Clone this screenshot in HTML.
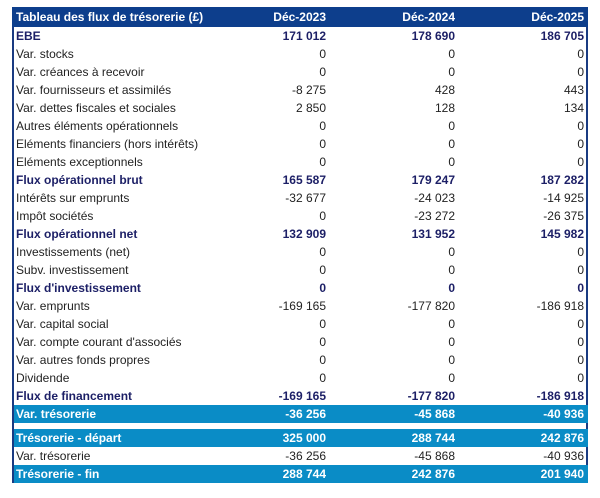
<!DOCTYPE html>
<html><head><meta charset="utf-8"><style>
body{margin:0;background:#fff;width:600px;height:498px;position:relative;font-family:"Liberation Sans",Arial,sans-serif;font-size:12px;color:#222}
.box{position:absolute;left:12px;top:7px;width:572px;height:474px;border:2px solid #1a3b82;border-top:none}
.r{position:absolute;left:14px;width:574px;height:18px;line-height:18px}
.r span{position:absolute;top:0}
.l{left:2px}
.a{right:262px}.b{right:133px}.c{right:4px}
.h{background:#0d3e8c;color:#fff;font-weight:bold;height:20px;line-height:20px}
.bd{font-weight:bold;color:#1c1f66}
.bl{background:#0a8cc6;color:#fff;font-weight:bold}
</style></head><body>
<div class="box"></div>
<div class="r h" style="top:7px;left:12px;width:576px"><span class="l" style="left:4px">Tableau des flux de trésorerie (£)</span><span class="a" style="right:262px">Déc-2023</span><span class="b" style="right:133px">Déc-2024</span><span class="c" style="right:4px">Déc-2025</span></div>
<div class="r bd" style="top:27px"><span class="l">EBE</span><span class="a">171 012</span><span class="b">178 690</span><span class="c">186 705</span></div>
<div class="r" style="top:45px"><span class="l">Var. stocks</span><span class="a">0</span><span class="b">0</span><span class="c">0</span></div>
<div class="r" style="top:63px"><span class="l">Var. créances à recevoir</span><span class="a">0</span><span class="b">0</span><span class="c">0</span></div>
<div class="r" style="top:81px"><span class="l">Var. fournisseurs et assimilés</span><span class="a">-8 275</span><span class="b">428</span><span class="c">443</span></div>
<div class="r" style="top:99px"><span class="l">Var. dettes fiscales et sociales</span><span class="a">2 850</span><span class="b">128</span><span class="c">134</span></div>
<div class="r" style="top:117px"><span class="l">Autres éléments opérationnels</span><span class="a">0</span><span class="b">0</span><span class="c">0</span></div>
<div class="r" style="top:135px"><span class="l">Eléments financiers (hors intérêts)</span><span class="a">0</span><span class="b">0</span><span class="c">0</span></div>
<div class="r" style="top:153px"><span class="l">Eléments exceptionnels</span><span class="a">0</span><span class="b">0</span><span class="c">0</span></div>
<div class="r bd" style="top:171px"><span class="l">Flux opérationnel brut</span><span class="a">165 587</span><span class="b">179 247</span><span class="c">187 282</span></div>
<div class="r" style="top:189px"><span class="l">Intérêts sur emprunts</span><span class="a">-32 677</span><span class="b">-24 023</span><span class="c">-14 925</span></div>
<div class="r" style="top:207px"><span class="l">Impôt sociétés</span><span class="a">0</span><span class="b">-23 272</span><span class="c">-26 375</span></div>
<div class="r bd" style="top:225px"><span class="l">Flux opérationnel net</span><span class="a">132 909</span><span class="b">131 952</span><span class="c">145 982</span></div>
<div class="r" style="top:243px"><span class="l">Investissements (net)</span><span class="a">0</span><span class="b">0</span><span class="c">0</span></div>
<div class="r" style="top:261px"><span class="l">Subv. investissement</span><span class="a">0</span><span class="b">0</span><span class="c">0</span></div>
<div class="r bd" style="top:279px"><span class="l">Flux d'investissement</span><span class="a">0</span><span class="b">0</span><span class="c">0</span></div>
<div class="r" style="top:297px"><span class="l">Var. emprunts</span><span class="a">-169 165</span><span class="b">-177 820</span><span class="c">-186 918</span></div>
<div class="r" style="top:315px"><span class="l">Var. capital social</span><span class="a">0</span><span class="b">0</span><span class="c">0</span></div>
<div class="r" style="top:333px"><span class="l">Var. compte courant d'associés</span><span class="a">0</span><span class="b">0</span><span class="c">0</span></div>
<div class="r" style="top:351px"><span class="l">Var. autres fonds propres</span><span class="a">0</span><span class="b">0</span><span class="c">0</span></div>
<div class="r" style="top:369px"><span class="l">Dividende</span><span class="a">0</span><span class="b">0</span><span class="c">0</span></div>
<div class="r bd" style="top:387px"><span class="l">Flux de financement</span><span class="a">-169 165</span><span class="b">-177 820</span><span class="c">-186 918</span></div>
<div class="r bl" style="top:405px"><span class="l">Var. trésorerie</span><span class="a">-36 256</span><span class="b">-45 868</span><span class="c">-40 936</span></div>
<div class="r bl" style="top:429px"><span class="l">Trésorerie - départ</span><span class="a">325 000</span><span class="b">288 744</span><span class="c">242 876</span></div>
<div class="r" style="top:447px"><span class="l">Var. trésorerie</span><span class="a">-36 256</span><span class="b">-45 868</span><span class="c">-40 936</span></div>
<div class="r bl" style="top:465px"><span class="l">Trésorerie - fin</span><span class="a">288 744</span><span class="b">242 876</span><span class="c">201 940</span></div>
</body></html>
